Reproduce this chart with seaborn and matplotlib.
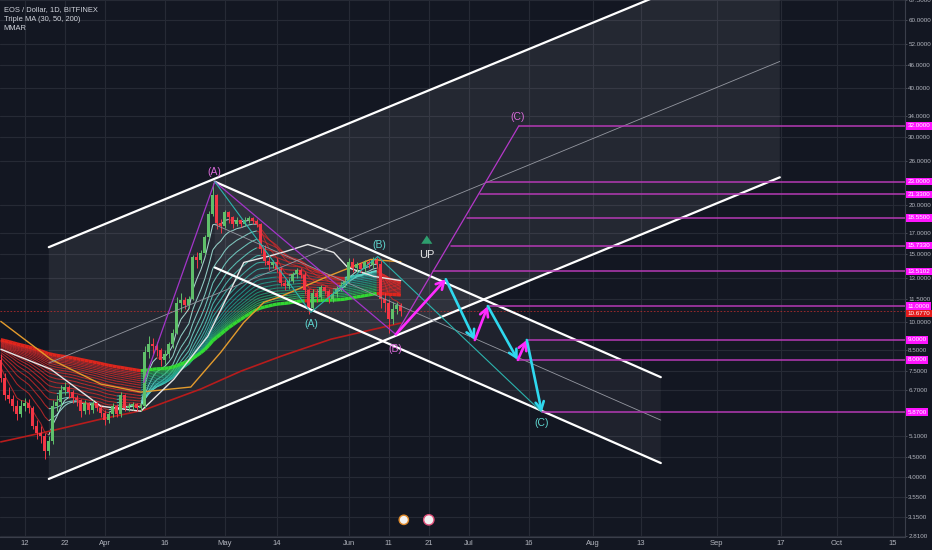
import numpy as np
import pandas as pd
import matplotlib
matplotlib.use("Agg")
import matplotlib.pyplot as plt
from matplotlib.collections import LineCollection
from matplotlib.colors import LinearSegmentedColormap, to_rgba
from matplotlib.transforms import blended_transform_factory
from matplotlib.ticker import NullLocator, FixedLocator
import seaborn as sns

# ---------------- data (x = days counted from 1 Mar 2018) ----------------
first_day = 5          # 6 Mar 2018
first_open = 8.0
closes = [7.2, 6.5, 6.35, 6.1, 5.8, 6.1, 6.2, 6.0, 5.4, 5.2,
          5.1, 4.65, 4.95, 6.1, 6.25, 6.7, 6.8, 6.6, 6.4, 6.3,
          5.9, 6.2, 5.95, 6.2, 6.0, 5.85, 5.6, 5.8, 6.1, 5.8,
          6.5, 6.0, 6.1, 6.15, 6.0, 6.1, 8.4, 8.8, 8.7, 8.5,
          8.0, 8.3, 8.8, 9.4, 11.2, 11.4, 11.1, 11.5, 14.7, 14.5,
          15.1, 16.6, 19.0, 21.3, 18.0, 17.7, 19.2, 18.6, 17.9, 18.3,
          17.9, 18.3, 18.5, 18.2, 17.9, 15.4, 14.4, 14.0, 14.3, 13.7,
          12.6, 12.4, 12.8, 13.3, 13.6, 13.2, 12.1, 10.9, 11.9, 11.6,
          12.3, 12.0, 11.5, 11.8, 12.2, 12.5, 12.8, 14.3, 13.8, 14.1,
          13.7, 14.3, 14.0, 14.5, 14.1, 11.5, 11.2, 10.2, 10.8, 11.1,
          10.68]
highs = [8.3, 7.4, 6.8, 6.5, 6.3, 6.3, 6.4, 6.35, 6.1, 5.6,
         5.4, 5.2, 5.1, 6.3, 6.5, 6.9, 7.0, 6.9, 6.7, 6.5,
         6.35, 6.3, 6.25, 6.3, 6.25, 6.1, 5.95, 5.9, 6.2, 6.15,
         6.6, 6.55, 6.2, 6.25, 6.2, 6.2, 8.7, 9.2, 9.1, 8.9,
         8.6, 8.5, 8.9, 9.6, 11.6, 11.9, 11.6, 11.7, 14.9, 15.2,
         15.3, 16.8, 19.3, 22.8, 21.4, 18.4, 19.5, 19.3, 18.8, 18.6,
         18.4, 18.6, 18.8, 18.7, 18.4, 18.0, 15.8, 14.9, 14.5, 14.6,
         13.9, 12.9, 13.0, 13.5, 13.8, 13.8, 13.5, 12.2, 12.2, 12.2,
         12.5, 12.4, 12.2, 12.0, 12.4, 12.7, 13.0, 14.6, 14.6, 14.3,
         14.3, 14.5, 14.5, 14.7, 14.7, 14.6, 11.9, 11.5, 11.3, 11.3,
         11.2]
lows = [7.0, 6.3, 6.2, 5.9, 5.6, 5.7, 5.9, 5.85, 5.3, 5.0,
        4.9, 4.45, 4.55, 4.85, 5.9, 6.1, 6.5, 6.4, 6.2, 6.1,
        5.7, 5.8, 5.8, 5.85, 5.9, 5.7, 5.45, 5.5, 5.7, 5.7,
        5.7, 5.9, 5.9, 5.95, 5.9, 5.9, 6.0, 8.1, 8.3, 8.2,
        7.7, 7.8, 8.1, 8.6, 9.3, 10.6, 10.8, 10.9, 11.4, 13.8,
        14.2, 14.9, 16.4, 18.8, 17.4, 17.0, 17.5, 18.0, 17.5, 17.7,
        17.6, 17.7, 18.0, 17.9, 17.6, 15.1, 14.0, 13.6, 13.8, 13.5,
        12.4, 12.1, 12.2, 12.6, 13.0, 13.0, 11.8, 10.5, 10.7, 11.3,
        11.4, 11.8, 11.2, 11.3, 11.6, 12.0, 12.3, 12.6, 13.5, 13.5,
        13.5, 13.5, 13.8, 13.8, 13.8, 10.9, 10.6, 9.4, 9.9, 10.5,
        10.4]

# Triple MA (30, 50, 200)
ma30_days = [5, 17.5, 30, 40, 48.25, 56.75, 62.5, 65.75, 71.75, 76.25, 81.75, 88.25, 91.75, 98.25, 105]
ma30_vals = [8.52, 7.57, 6.08, 5.90, 7.13, 9.20, 12.15, 14.25, 14.76, 15.21, 15.85, 15.12, 13.83, 13.12, 12.8]
ma50_days = [5, 17.5, 30, 40, 52.5, 60, 65.75, 70.75, 75, 86.75, 97.5, 105]
ma50_vals = [10.05, 8.03, 6.93, 6.61, 6.81, 8.37, 9.99, 11.25, 11.65, 13.12, 14.51, 14.3]
ma200_days = [5, 17.5, 30, 40.75, 55, 65, 75, 87.5, 105]
ma200_vals = [4.92, 5.25, 5.63, 5.94, 6.73, 7.48, 8.17, 9.04, 9.95]

# MMAR ribbon: EMA periods and their values on the first visible day
ribbon_periods = [5, 10, 15, 20, 25, 30, 35, 40, 45, 50, 55, 60, 65, 70, 75, 80, 85, 90, 100]
ribbon_seeds = [7.9, 8.1, 8.25, 8.35, 8.45, 8.55, 8.62, 8.68, 8.74, 8.78,
                8.82, 8.86, 8.9, 8.93, 8.96, 8.98, 9.0, 9.02, 9.05]

date_tick_days = [11, 21, 31, 46, 61, 74, 92, 102, 112, 122, 137, 153, 165, 184, 200, 214, 228]
date_tick_labels = ['12', '22', 'Apr', '16', 'May', '14', 'Jun', '11', '21', 'Jul',
                    '16', 'Aug', '13', 'Sep', '17', 'Oct', '15']
price_ticks = [67.5, 60, 52, 46, 40, 34, 30, 26, 20, 17, 15, 13, 11.5, 10, 8.5,
               7.5, 6.7, 5.1, 4.5, 4.0, 3.55, 3.15, 2.81]

level_values = [32.0, 23.0, 21.33, 18.55, 15.733, 13.5102, 11.0, 9.0, 8.0, 5.87]
level_labels = ['32.0000', '23.0000', '21.3300', '18.5500', '15.7330', '13.5102',
                '11.0000', '9.0000', '8.0000', '5.8700']
level_start_days = [134.5, 126.5, 124.75, 121.5, 117.5, 113, 127, 136.75, 134.25, 140.25]
last_price = 10.677

# channels (day, price anchors)
upchan_days = [17, 199.75]
upchan_lower = [3.95, 23.6]
upchan_upper = [15.6, 93.2]
downchan_days = [58.5, 170]
downchan_upper = [23.0, 7.22]
downchan_lower = [13.83, 4.34]

# wave drawings
abc_violet_days = [40.75, 58.5, 103.75]
abc_violet_prices = [7.0, 23.0, 9.3]
proj_days = [103.75, 134.5]
proj_prices = [9.3, 32.0]
abc_teal_days = [58.5, 82.5, 99.25, 140.25]
abc_teal_prices = [23.0, 10.6, 14.76, 5.87]
wave_days = [103.75, 116.25, 123.5, 126.75, 134.25, 136.5, 140.25]
wave_prices = [9.3, 12.9, 9.0, 11.0, 8.0, 9.0, 5.87]

# ---------------- styling ----------------
BG = '#131722'
sns.set_theme(style='dark', rc={'axes.facecolor': BG, 'figure.facecolor': BG})
plt.rcParams['font.family'] = ['Liberation Sans', 'DejaVu Sans']

fig = plt.figure(figsize=(9.32, 5.5), dpi=100)
ax = fig.add_axes([0, 13 / 550, 905 / 932, 537 / 550])
ax.set_facecolor(BG)
ax.set_yscale('log')
XMAX = 231.05
ax.set_xlim(4.8, XMAX)
ax.set_ylim(2.80, 67.5)

ax.yaxis.set_major_locator(FixedLocator(price_ticks))
ax.yaxis.set_minor_locator(NullLocator())
ax.set_yticklabels([f'{v:.4f}' for v in price_ticks])
ax.set_xticks(date_tick_days)
ax.set_xticklabels(date_tick_labels)
ax.xaxis.set_minor_locator(NullLocator())
ax.grid(True, color='#262a35', lw=0.8)
ax.set_axisbelow(True)
ax.yaxis.tick_right()
ax.tick_params(axis='y', which='major', right=True, left=False, labelright=True, labelleft=False,
               length=1.5, width=0.6, color='#50535e', pad=0.8, labelsize=4.5, labelcolor='#b2b5be')
ax.tick_params(axis='x', length=0, pad=2.5, labelsize=5.5, labelcolor='#b2b5be')
for s in ['top', 'left']:
    ax.spines[s].set_visible(False)
for s in ['right', 'bottom']:
    ax.spines[s].set_visible(True)
    ax.spines[s].set_color('#3a3e4a')
    ax.spines[s].set_linewidth(0.8)

# channel fills
ax.fill(upchan_days + upchan_days[::-1], upchan_lower + upchan_upper[::-1],
        color='white', alpha=0.075, lw=0, zorder=1)
ax.fill(downchan_days + downchan_days[::-1], downchan_lower + downchan_upper[::-1],
        color='white', alpha=0.05, lw=0, zorder=1)

# current price line
ax.axhline(last_price, color='#d32f2f', lw=0.6, ls=(0, (2, 2)), alpha=0.8, zorder=2)

# ---------------- MMAR ribbon ----------------
days = np.arange(first_day, first_day + len(closes))
cl = np.array(closes)
emas = []
for p, s in zip(ribbon_periods, ribbon_seeds):
    a = 2.0 / (p + 1)
    prev = s
    out = []
    for c in closes:
        prev = prev + a * (c - prev)
        out.append(prev)
    emas.append(np.array(out))

cmap_up = LinearSegmentedColormap.from_list('up', ['#c8fff4', '#5fe0d0', '#1fa8a0', '#22a37a', '#2bc45a'])
pale_base = np.array(to_rgba('#a6b3b8'))
for k, (p, e) in enumerate(zip(ribbon_periods, emas)):
    pts = np.column_stack([days, e])
    segs = np.stack([pts[:-1], pts[1:]], axis=1)
    rising = e[1:] >= e[:-1]
    above = cl[1:] >= e[1:]
    t = k / (len(ribbon_periods) - 2)
    up_c = np.array(cmap_up(min(t, 1.0)))
    pale_c = 0.55 * up_c + 0.45 * pale_base
    cols = []
    for r, ab in zip(rising, above):
        if p == 100:
            if r:
                cols.append(to_rgba('#33e033') if ab else to_rgba('#2e9e3a'))
            else:
                cols.append(to_rgba('#e8261c'))
        else:
            if ab and r:
                cols.append(tuple(up_c))
            elif ab:
                cols.append(tuple(pale_c))
            elif r:
                cols.append(to_rgba('#2f8f3a'))
            else:
                cols.append(to_rgba('#d42a2a'))
    lc = LineCollection(segs, colors=cols, linewidths=2.4 if p == 100 else 0.75,
                        alpha=0.95 if p == 100 else 0.8, zorder=4)
    ax.add_collection(lc)

# ---------------- Triple MA ----------------
sns.lineplot(x=ma200_days, y=ma200_vals, ax=ax, color='#b71c1c', lw=1.2, sort=False, estimator=None, zorder=5)
sns.lineplot(x=ma50_days, y=ma50_vals, ax=ax, color='#e39b2d', lw=1.0, sort=False, estimator=None, zorder=5)
sns.lineplot(x=ma30_days, y=ma30_vals, ax=ax, color='#e6e6e6', lw=1.0, sort=False, estimator=None, zorder=5)

# ---------------- candles ----------------
opens = [first_open] + closes[:-1]
o = np.array(opens)
h = np.array(highs)
lw_ = np.array(lows)
up = cl >= o
ccol = np.where(up, '#5fbf6a', '#f23645')
ax.vlines(days, lw_, h, colors=ccol, lw=0.7, zorder=6)
bottoms = np.minimum(o, cl)
tops = np.maximum(np.maximum(o, cl), bottoms * 1.006)
ax.bar(days, tops - bottoms, bottom=bottoms, width=0.72, color=ccol, lw=0, zorder=7)

# ---------------- channels ----------------
ax.plot(upchan_days, upchan_lower, color='white', lw=1.6, zorder=8)
ax.plot(upchan_days, upchan_upper, color='white', lw=1.6, zorder=8)
ax.plot(upchan_days, np.sqrt(np.array(upchan_lower) * np.array(upchan_upper)),
        color='#9598a1', lw=0.6, zorder=8)
ax.plot(downchan_days, downchan_upper, color='white', lw=1.6, zorder=8)
ax.plot(downchan_days, downchan_lower, color='white', lw=1.6, zorder=8)
ax.plot(downchan_days, np.sqrt(np.array(downchan_lower) * np.array(downchan_upper)),
        color='#9598a1', lw=0.6, zorder=8)

# ---------------- wave drawings ----------------
ax.plot(abc_violet_days, abc_violet_prices, color='#a335c9', lw=0.9, zorder=9)
ax.plot(proj_days, proj_prices, color='#b438c8', lw=0.9, zorder=9)
ax.plot(abc_teal_days, abc_teal_prices, color='#2bb3ad', lw=0.8, zorder=9)

trans = blended_transform_factory(ax.transAxes, ax.transData)
box_x = 1.0 + 2.5 / 905
for v, lab, s in zip(level_values, level_labels, level_start_days):
    ax.plot([s, XMAX], [v, v], color='#b53ab5', lw=1.1, zorder=9)
    ax.text(box_x, v, lab, transform=trans, ha='left', va='center', fontsize=4.5,
            color='white', zorder=12, clip_on=False,
            bbox=dict(boxstyle='square,pad=0.2', fc='#ff14ff', ec='none'))
ax.text(box_x, last_price * 0.985, f'{last_price:.4f}', transform=trans, ha='left', va='center',
        fontsize=4.5, color='white', zorder=12, clip_on=False,
        bbox=dict(boxstyle='square,pad=0.2', fc='#e41b1b', ec='none'))

for i in range(len(wave_days) - 1):
    c = '#ff2bff' if i % 2 == 0 else '#2fd8ee'
    ax.annotate('', xy=(wave_days[i + 1], wave_prices[i + 1]), xytext=(wave_days[i], wave_prices[i]),
                arrowprops=dict(arrowstyle='->,head_length=0.55,head_width=0.3', color=c, lw=1.9,
                                shrinkA=0, shrinkB=0, mutation_scale=10), zorder=10)

violet = '#d86ad8'
teal = '#5fd6cf'
lab_kw = dict(fontsize=7.5, ha='center', va='center', zorder=11)
ax.text(58.5, 24.4, '(A)', color=violet, **lab_kw)
ax.text(82.75, 9.88, '(A)', color=teal, **lab_kw)
ax.text(99.75, 15.77, '(B)', color=teal, **lab_kw)
ax.text(103.75, 8.52, '(B)', color=violet, **lab_kw)
ax.text(134.25, 33.8, '(C)', color=violet, **lab_kw)
ax.text(140.25, 5.50, '(C)', color=teal, **lab_kw)
ax.text(111.5, 14.9, 'UP', color='#e8e8e8', fontsize=8, ha='center', va='center', zorder=11)
ax.annotate('', xy=(111.5, 17.0), xytext=(111.5, 15.75),
            arrowprops=dict(arrowstyle='simple,head_width=0.8,head_length=0.6,tail_width=0.35',
                            color='#2e9e6e', lw=0, mutation_scale=10), zorder=11)

# event icons at the bottom
ax.scatter([105.75, 112], [3.1, 3.1], s=[45, 55], facecolor=['#f2f2f2', '#f2f2f2'],
           edgecolor=['#e08a2a', '#e0507a'], lw=1.0, zorder=11)

ax.text(0.004, 0.988, 'EOS / Dollar, 1D, BITFINEX\nTriple MA (30, 50, 200)\nMMAR',
        transform=ax.transAxes, ha='left', va='top', fontsize=5.4, color='#d1d4dc',
        linespacing=1.5, zorder=12)

fig.savefig('out.png', dpi=100, facecolor=BG)
